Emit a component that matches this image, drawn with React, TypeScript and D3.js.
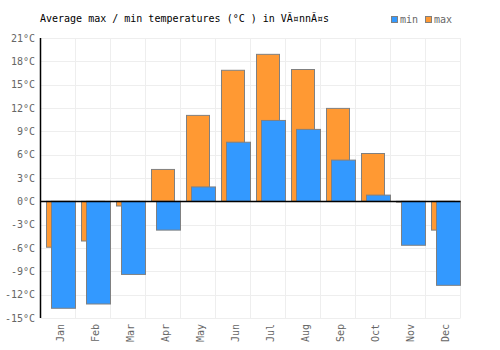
import React from "react";
import * as d3 from "d3";

const months = ["Jan", "Feb", "Mar", "Apr", "May", "Jun", "Jul", "Aug", "Sep", "Oct", "Nov", "Dec"];
const maxTemps = [-5.9, -5.1, -0.6, 4.1, 11.05, 16.85, 18.9, 16.95, 11.95, 6.15, -0.1, -3.7];
const minTemps = [-13.75, -13.2, -9.4, -3.7, 1.85, 7.6, 10.4, 9.25, 5.3, 0.8, -5.65, -10.8];
const yTicks = [21, 18, 15, 12, 9, 6, 3, 0, -3, -6, -9, -12, -15];
const title = "Average max / min temperatures (°C ) in VÃ¤nnÃ¤s";
const legendLabels = ["min", "max"];

const W = 500, H = 350;
const left = 40.5, right = 460.5, top = 38, bottom = 318;
const font = "'DejaVu Sans Mono', monospace";
const blue = "#3399ff", orange = "#ff9933", strokeC = "#808080";

export default function App() {
  const x = d3.scaleBand<string>().domain(months).range([left, right]).padding(0);
  const y = d3.scaleLinear().domain([-15, 21]).range([bottom, top]);
  const bw = x.bandwidth();
  const y0 = y(0);
  return (
    <svg width={W} height={H} style={{ position: "absolute", left: 0, top: 0 }}>
      <rect width={W} height={H} fill="#fff" />
      {yTicks.map((t) => (
        <line key={"gy" + t} x1={left} x2={right} y1={Math.round(y(t)) + 0.5} y2={Math.round(y(t)) + 0.5} stroke="#eeeeee" />
      ))}
      {months.map((m) => (
        <line key={"gx" + m} x1={(x(m) as number) + bw} x2={(x(m) as number) + bw} y1={top} y2={bottom} stroke="#eeeeee" />
      ))}
      {months.map((m, i) => {
        const c = x(m) as number;
        const v = maxTemps[i];
        const yt = Math.min(y(v), y0), h = Math.abs(y(v) - y0);
        return <rect key={"mx" + m} x={c + 6} y={yt} width={23} height={h} fill={orange} stroke={strokeC} strokeWidth={1} />;
      })}
      {months.map((m, i) => {
        const c = x(m) as number;
        const v = minTemps[i];
        const yt = Math.min(y(v), y0), h = Math.abs(y(v) - y0);
        return <rect key={"mn" + m} x={c + 11} y={yt} width={24} height={h} fill={blue} stroke={strokeC} strokeWidth={1} />;
      })}
      <line x1={left} x2={right} y1={Math.round(y0) + 0.5} y2={Math.round(y0) + 0.5} stroke="#000" strokeWidth={1.5} />
      <line x1={left} x2={left} y1={top} y2={bottom} stroke="#000" strokeWidth={1.5} />
      {yTicks.map((t) => (
        <text key={"yl" + t} x={35} y={y(t)} dy="0.35em" textAnchor="end" fontFamily={font} fontSize={10} fill="#666">
          {t + "°C"}
        </text>
      ))}
      {months.map((m) => {
        const cx = (x(m) as number) + bw / 2 + 6;
        return (
          <text key={"xl" + m} transform={`translate(${cx},${bottom + 6}) rotate(-90)`} textAnchor="end" fontFamily={font} fontSize={10} fill="#666">
            {m}
          </text>
        );
      })}
      <text x={40} y={22} fontFamily={font} fontSize={10} fill="#000">{title}</text>
      <rect x={391.5} y={16.5} width={6} height={6} fill={blue} stroke={strokeC} />
      <text x={400} y={23} fontFamily={font} fontSize={10} fill="#666">{legendLabels[0]}</text>
      <rect x={425.5} y={16.5} width={6} height={6} fill={orange} stroke={strokeC} />
      <text x={434} y={23} fontFamily={font} fontSize={10} fill="#666">{legendLabels[1]}</text>
    </svg>
  );
}
